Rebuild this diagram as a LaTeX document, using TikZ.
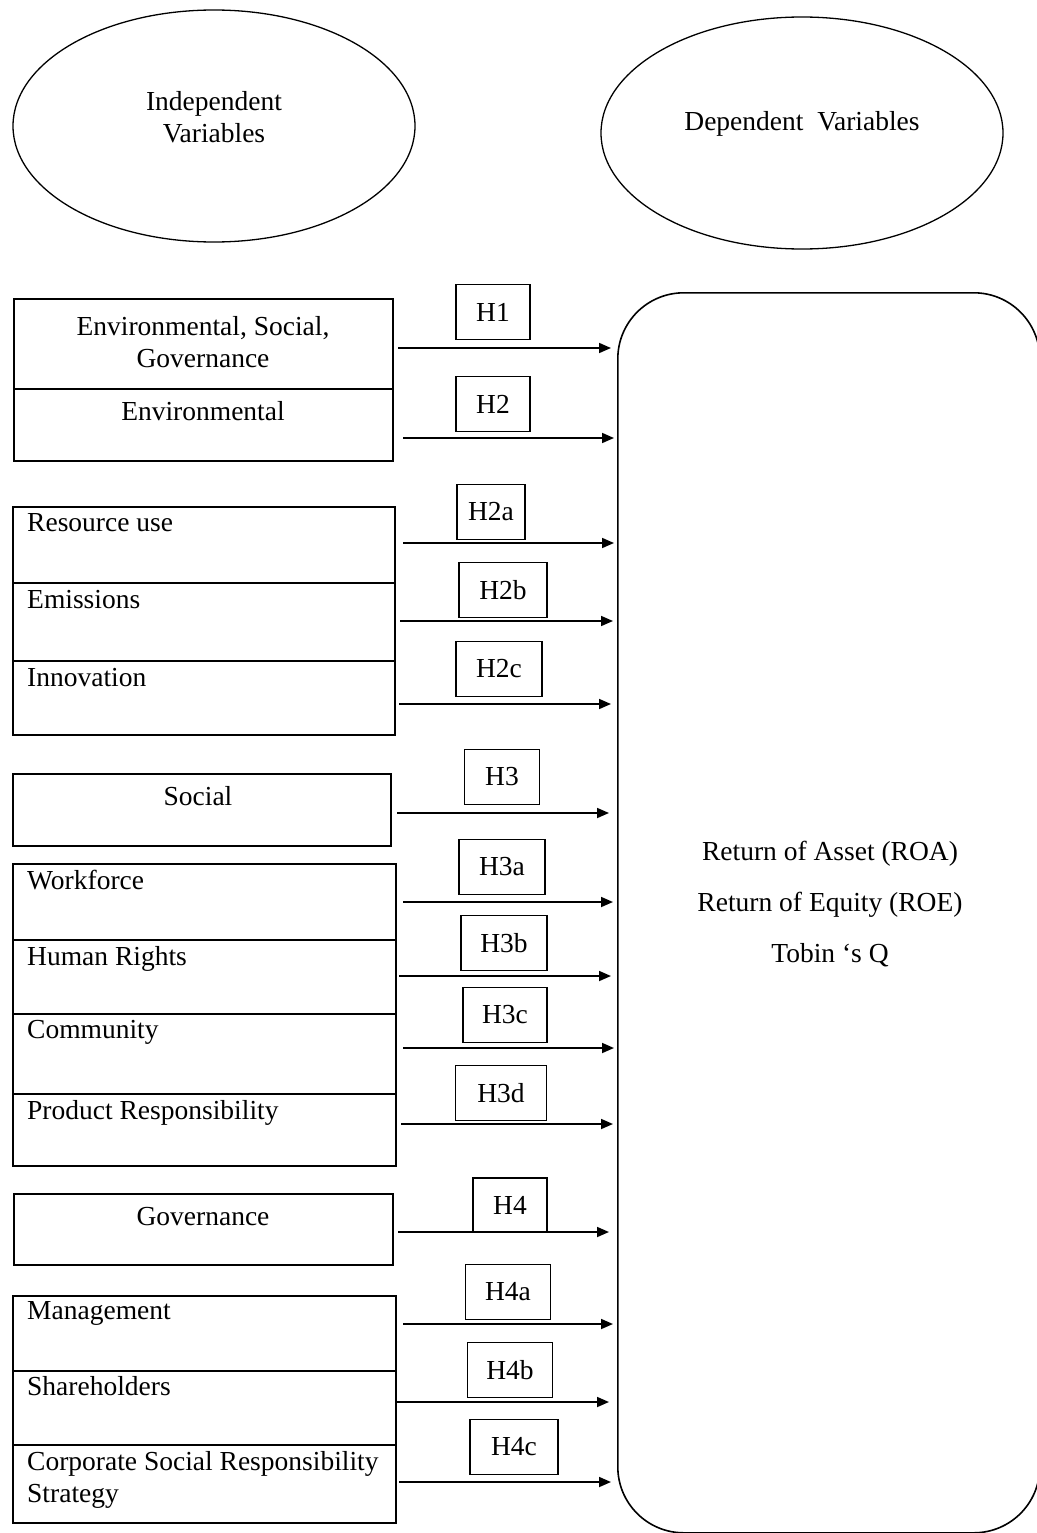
\documentclass[tikz,border=0pt]{standalone}
\usepackage{fontspec}
\setmainfont{Liberation Serif}
\usetikzlibrary{shapes.geometric,arrows.meta}
\newcommand\myfs{\fontsize{27.5}{32}\selectfont}
\tikzset{
  cell/.style={draw, line width=1.6pt, anchor=north west, inner sep=0pt},
  hbox/.style={draw, line width=1.6pt, inner sep=0pt, font=\myfs},
  txt/.style={inner sep=0pt, font=\myfs},
  lt/.style={txt, anchor=mid west},
  ct/.style={txt, anchor=mid},
  oval/.style={draw, ellipse, line width=1.3pt, inner sep=0pt},
  arr/.style={line width=1.7pt, -{Triangle[length=12pt,width=10pt]}}
}
\begin{document}
\begin{tikzpicture}[x=1pt,y=-1pt]
\useasboundingbox (0,0) rectangle (1036,1533);
\fill[white] (0,0) rectangle (1036,1533);

% ovals
\node[oval, minimum width=402pt, minimum height=232pt] (iv) at (214,126) {};
\node[txt, align=center] (ivt) at (214,117) {Independent\\Variables};
\node[oval, minimum width=402pt, minimum height=232pt] (dv) at (802,133) {};
\node[ct] (dvt) at (802,128) {Dependent~ Variables};

% dependent box
\node[cell, rounded corners=66pt, minimum width=422pt, minimum height=1240pt] (dep) at (617,292) {};
\node[ct] (roa) at (830,858) {Return of Asset (ROA)};
\node[ct] (roe) at (830,909) {Return of Equity (ROE)};
\node[ct] (tq) at (830,960) {Tobin ‘s Q};

% ESG group
\node[cell, minimum width=379pt, minimum height=90pt] (esg) at (13,298) {};
\node[txt, align=center] (esgt) at (203,342) {Environmental, Social,\\Governance};
\node[cell, minimum width=379pt, minimum height=72pt] (env) at (13,388) {};
\node[ct] (envt) at (203,418) {Environmental};

% environmental sub
\node[cell, minimum width=382pt, minimum height=76pt] (res) at (12,506) {};
\node[lt] (rest) at (27,529) {Resource use};
\node[cell, minimum width=382pt, minimum height=78pt] (emi) at (12,582) {};
\node[lt] (emit) at (27,606) {Emissions};
\node[cell, minimum width=382pt, minimum height=74pt] (inn) at (12,660) {};
\node[lt] (innt) at (27,684) {Innovation};

% social
\node[cell, minimum width=378pt, minimum height=72pt] (soc) at (12,773) {};
\node[ct] (soct) at (198,803) {Social};
\node[cell, minimum width=383pt, minimum height=76pt] (wf) at (12,863) {};
\node[lt] (wft) at (27,887) {Workforce};
\node[cell, minimum width=383pt, minimum height=74pt] (hr) at (12,939) {};
\node[lt] (hrt) at (27,963) {Human Rights};
\node[cell, minimum width=383pt, minimum height=80pt] (com) at (12,1013) {};
\node[lt] (comt) at (27,1036) {Community};
\node[cell, minimum width=383pt, minimum height=72pt] (pr) at (12,1093) {};
\node[lt] (prt) at (27,1117) {Product Responsibility};

% governance
\node[cell, minimum width=379pt, minimum height=71pt] (gov) at (13,1193) {};
\node[ct] (govt) at (203,1223) {Governance};
\node[cell, minimum width=383pt, minimum height=75pt] (man) at (12,1295) {};
\node[lt] (mant) at (27,1317) {Management};
\node[cell, minimum width=383pt, minimum height=74pt] (sh) at (12,1370) {};
\node[lt] (sht) at (27,1393) {Shareholders};
\node[cell, minimum width=383pt, minimum height=78pt] (csr) at (12,1444) {};
\node[txt, align=left, anchor=north west] (csrt) at (27,1451) {Corporate Social Responsibility\\Strategy};

% hypothesis boxes
\node[hbox, minimum width=74pt, minimum height=55pt] (h1) at (493,312) {H1};
\node[hbox, minimum width=74pt, minimum height=55pt] (h2) at (493,404) {H2};
\node[hbox, minimum width=68pt, minimum height=55pt] (h2a) at (491,512) {H2a};
\node[hbox, minimum width=88pt, minimum height=55pt] (h2b) at (503,590) {H2b};
\node[hbox, minimum width=86pt, minimum height=55pt] (h2c) at (499,669) {H2c};
\node[hbox, minimum width=75pt, minimum height=55pt] (h3) at (502,777) {H3};
\node[hbox, minimum width=86pt, minimum height=55pt] (h3a) at (502,867) {H3a};
\node[hbox, minimum width=86pt, minimum height=55pt] (h3b) at (504,943) {H3b};
\node[hbox, minimum width=84pt, minimum height=55pt] (h3c) at (505,1015) {H3c};
\node[hbox, minimum width=91pt, minimum height=55pt] (h3d) at (501,1093) {H3d};
\node[hbox, minimum width=74pt, minimum height=54pt] (h4) at (510,1205) {H4};
\node[hbox, minimum width=85pt, minimum height=55pt] (h4a) at (508,1292) {H4a};
\node[hbox, minimum width=85pt, minimum height=55pt] (h4b) at (510,1370) {H4b};
\node[hbox, minimum width=88pt, minimum height=55pt] (h4c) at (514,1447) {H4c};

% arrow start points
\coordinate (s1) at (398,348);
\coordinate (s2) at (403,438);
\coordinate (s2a) at (403,543);
\coordinate (s2b) at (400,621);
\coordinate (s2c) at (399,704);
\coordinate (s3) at (397,813);
\coordinate (s3a) at (403,902);
\coordinate (s3b) at (399,976);
\coordinate (s3c) at (403,1048);
\coordinate (s3d) at (401,1124);
\coordinate (s4) at (398,1232);
\coordinate (s4a) at (403,1324);
\coordinate (s4b) at (397,1402);
\coordinate (s4c) at (399,1482);

\foreach \s/\g in {s1/6, s2/3, s2a/3, s2b/4, s2c/6, s3/8, s3a/4, s3b/6, s3c/3, s3d/4, s4/8, s4a/4, s4b/8, s4c/6}
  \draw[arr, shorten >=\g pt] (\s) -- (\s -| dep.west);
\end{tikzpicture}
\end{document}
